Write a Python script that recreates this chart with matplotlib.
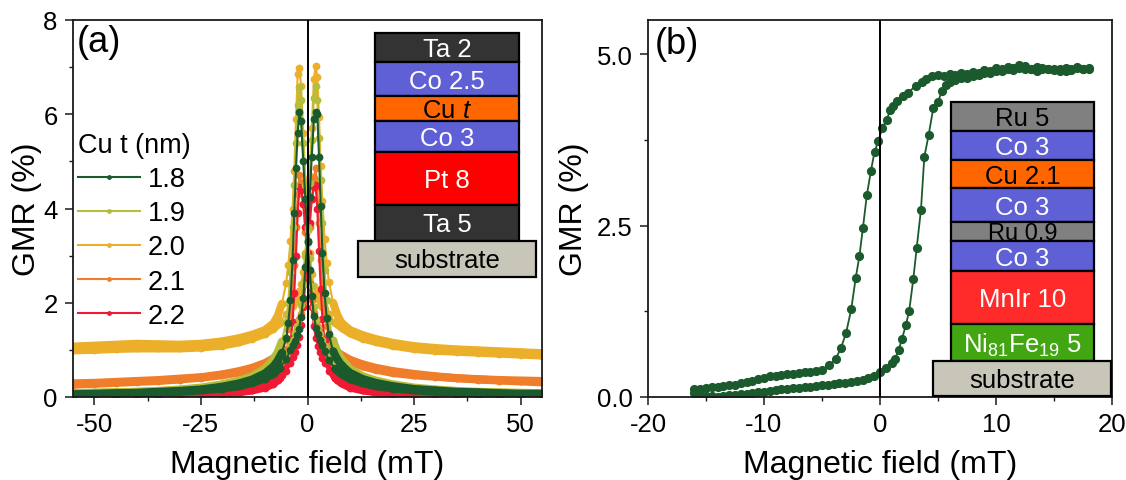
import matplotlib
matplotlib.use("Agg")
import matplotlib.pyplot as plt
import numpy as np
from matplotlib.patches import Rectangle
from matplotlib.ticker import MultipleLocator, FormatStrFormatter

plt.rcParams['font.family'] = ['Liberation Sans', 'DejaVu Sans']
plt.rcParams['mathtext.fontset'] = 'custom'
plt.rcParams['mathtext.rm'] = 'Liberation Sans'
plt.rcParams['mathtext.it'] = 'Liberation Sans:italic'
plt.rcParams['axes.unicode_minus'] = False

# ---------------- Panel (a) data: GMR vs field, two sweep branches ----------------
H_DOWN = [55, 50, 45, 40, 35, 30, 25, 20, 16, 13, 10, 8, 6.5, 5, 4, 3.5, 3, 2.5, 2, 1.5, 1, 0.5, 0,
          -0.5, -1, -1.5, -1.9, -2.3, -2.7, -3.1, -3.5, -4, -4.5, -5, -6, -7, -8, -10, -13, -16,
          -20, -25, -30, -35, -40, -45, -50, -55]
H_UP = [-55, -50, -45, -40, -35, -30, -25, -20, -16, -13, -10, -8, -6.5, -5, -4, -3.5, -3, -2.5, -2, -1.5, -1, -0.5, 0,
        0.5, 1, 1.5, 1.9, 2.3, 2.7, 3.1, 3.5, 4, 4.5, 5, 6, 7, 8, 10, 13, 16,
        20, 25, 30, 35, 40, 45, 50, 55]

GMR_18_DOWN = [0.05, 0.06, 0.07, 0.08, 0.09, 0.11, 0.14, 0.18, 0.23, 0.29, 0.38, 0.48, 0.60, 0.78, 0.98, 1.10,
               1.22, 1.33, 1.47, 1.72, 2.15, 2.70, 3.28, 4.20, 5.00, 5.85, 6.05, 5.60, 4.85, 3.90, 2.90, 2.05,
               1.58, 1.25, 0.94, 0.77, 0.65, 0.50, 0.37, 0.29, 0.22, 0.16, 0.13, 0.11, 0.09, 0.08, 0.07, 0.06]
GMR_18_UP = [0.05, 0.06, 0.07, 0.08, 0.09, 0.11, 0.14, 0.18, 0.23, 0.30, 0.39, 0.49, 0.61, 0.80, 1.00, 1.10,
             1.18, 1.32, 1.45, 1.70, 2.10, 2.75, 3.30, 4.25, 5.10, 5.90, 6.05, 6.00, 5.10, 4.05, 3.05, 2.20,
             1.68, 1.33, 0.97, 0.80, 0.67, 0.51, 0.38, 0.30, 0.23, 0.17, 0.14, 0.11, 0.10, 0.08, 0.07, 0.07]
GMR_19_DOWN = [0.07, 0.08, 0.09, 0.10, 0.11, 0.13, 0.16, 0.21, 0.27, 0.34, 0.44, 0.55, 0.68, 0.88, 1.08, 1.20,
               1.33, 1.47, 1.63, 1.90, 2.35, 2.95, 3.55, 4.50, 5.40, 6.30, 6.58, 6.20, 5.40, 4.50, 3.60, 2.65,
               2.00, 1.60, 1.18, 0.95, 0.80, 0.60, 0.44, 0.35, 0.27, 0.20, 0.16, 0.13, 0.11, 0.10, 0.09, 0.08]
GMR_19_UP = [0.08, 0.09, 0.10, 0.11, 0.12, 0.14, 0.17, 0.22, 0.28, 0.35, 0.45, 0.56, 0.70, 0.90, 1.10, 1.22,
             1.35, 1.50, 1.66, 1.95, 2.40, 3.00, 3.60, 4.55, 5.45, 6.35, 6.60, 6.30, 5.50, 4.60, 3.70, 2.70,
             2.05, 1.62, 1.20, 0.96, 0.80, 0.60, 0.44, 0.35, 0.27, 0.20, 0.16, 0.13, 0.11, 0.10, 0.09, 0.08]
GMR_20_DOWN = [0.88, 0.90, 0.92, 0.94, 0.96, 0.98, 1.02, 1.09, 1.17, 1.24, 1.35, 1.47, 1.58, 1.76, 1.86, 1.92,
               1.98, 2.08, 2.20, 2.36, 2.60, 3.05, 3.70, 4.60, 5.60, 6.60, 6.98, 6.85, 5.90, 4.80, 4.00, 3.30,
               2.80, 2.42, 1.98, 1.72, 1.56, 1.42, 1.32, 1.25, 1.18, 1.13, 1.11, 1.12, 1.13, 1.11, 1.09, 1.07]
GMR_20_UP = [0.99, 1.00, 1.02, 1.03, 1.03, 1.03, 1.05, 1.09, 1.16, 1.24, 1.34, 1.45, 1.57, 1.76, 1.87, 1.94,
             2.01, 2.11, 2.24, 2.40, 2.65, 3.05, 3.70, 4.70, 5.70, 6.75, 7.02, 6.80, 5.95, 4.90, 4.15, 3.35,
             2.85, 2.45, 2.00, 1.74, 1.57, 1.42, 1.31, 1.23, 1.15, 1.08, 1.04, 1.01, 0.99, 0.97, 0.95, 0.93]
GMR_21_DOWN = [0.31, 0.33, 0.35, 0.37, 0.40, 0.44, 0.49, 0.55, 0.62, 0.69, 0.79, 0.89, 0.99, 1.12, 1.22, 1.30,
               1.38, 1.48, 1.60, 1.78, 2.05, 2.40, 2.90, 3.50, 4.10, 4.55, 4.72, 4.30, 3.60, 2.80, 2.20, 1.75,
               1.45, 1.25, 1.02, 0.90, 0.82, 0.72, 0.62, 0.55, 0.48, 0.42, 0.39, 0.36, 0.34, 0.32, 0.30, 0.29]
GMR_21_UP = [0.26, 0.28, 0.30, 0.32, 0.34, 0.37, 0.41, 0.46, 0.52, 0.59, 0.68, 0.78, 0.88, 1.02, 1.14, 1.22,
             1.32, 1.44, 1.58, 1.76, 2.02, 2.40, 2.95, 3.60, 4.20, 4.65, 4.85, 4.45, 3.70, 2.90, 2.25, 1.80,
             1.50, 1.28, 1.05, 0.93, 0.85, 0.75, 0.65, 0.58, 0.51, 0.46, 0.43, 0.40, 0.38, 0.36, 0.35, 0.34]
GMR_22_DOWN = [0.02, 0.02, 0.03, 0.03, 0.04, 0.05, 0.06, 0.08, 0.11, 0.15, 0.22, 0.30, 0.40, 0.55, 0.72, 0.83,
               0.95, 1.08, 1.25, 1.50, 1.90, 2.40, 3.00, 3.60, 4.10, 4.40, 4.45, 3.90, 3.00, 2.20, 1.60, 1.15,
               0.85, 0.68, 0.47, 0.36, 0.28, 0.20, 0.14, 0.10, 0.07, 0.05, 0.04, 0.03, 0.03, 0.02, 0.02, 0.02]
GMR_22_UP = [0.02, 0.02, 0.02, 0.03, 0.03, 0.04, 0.06, 0.08, 0.11, 0.15, 0.22, 0.30, 0.41, 0.56, 0.73, 0.84,
             0.96, 1.10, 1.27, 1.52, 1.92, 2.45, 3.05, 3.70, 4.20, 4.45, 4.50, 4.00, 3.10, 2.30, 1.65, 1.20,
             0.88, 0.70, 0.48, 0.37, 0.29, 0.20, 0.14, 0.10, 0.07, 0.05, 0.04, 0.03, 0.03, 0.02, 0.02, 0.02]

CU_T_LABELS = ['1.8', '1.9', '2.0', '2.1', '2.2']
SERIES_COLORS = ['#1a5a2c', '#b5bd3a', '#ebaf2a', '#f07d2a', '#f01a34']
SERIES_DOWN = [GMR_18_DOWN, GMR_19_DOWN, GMR_20_DOWN, GMR_21_DOWN, GMR_22_DOWN]
SERIES_UP = [GMR_18_UP, GMR_19_UP, GMR_20_UP, GMR_21_UP, GMR_22_UP]
DRAW_ORDER = [2, 3, 4, 1, 0]  # gold, orange, red, olive, green on top

# ---------------- Panel (b) data: spin-valve loop ----------------
HB_DOWN = [18, 17.5, 17, 16.5, 16, 15.5, 15, 14.5, 14, 13.5, 13, 12.5, 12, 11.5, 11, 10.5, 10, 9.5, 9, 8.5,
           8, 7.5, 7, 6.5, 6, 5.5, 5, 4.5, 4, 3.6, 3.1, 2.4, 1.95, 1.5, 1.15, 0.86, 0.57, 0.2,
           -0.15, -0.47, -0.78, -1.13, -1.47, -1.78, -2.1, -2.48, -2.93, -3.36, -3.8, -4.4,
           -5.0, -5.5, -6, -6.5, -7, -7.5, -8, -8.5, -9, -9.5, -10, -10.5, -11, -11.5, -12, -12.5,
           -13, -13.5, -14, -14.5, -15, -15.5, -16]
GB_DOWN = [4.80, 4.78, 4.82, 4.77, 4.80, 4.76, 4.79, 4.78, 4.80, 4.81, 4.78, 4.83, 4.84, 4.80, 4.82, 4.78,
           4.80, 4.76, 4.77, 4.73, 4.74, 4.71, 4.72, 4.70, 4.71, 4.69, 4.70, 4.69, 4.64,
           4.60, 4.54, 4.44, 4.39, 4.32, 4.25, 4.18, 4.04, 3.93,
           3.73, 3.58, 3.30, 2.95, 2.47, 2.05, 1.73, 1.28, 0.93, 0.72, 0.56, 0.46,
           0.40, 0.38, 0.37, 0.36, 0.35, 0.34, 0.34, 0.32, 0.31, 0.30, 0.28, 0.26, 0.24, 0.22, 0.20, 0.18,
           0.17, 0.16, 0.15, 0.14, 0.13, 0.12, 0.11]
HB_UP = [-16, -15.5, -15, -14.5, -14, -13.5, -13, -12.5, -12, -11.5, -11, -10.5, -10, -9.5, -9, -8.5,
         -8, -7.5, -7, -6.5, -6, -5.5, -5, -4.5, -4, -3.5, -3, -2.5, -2, -1.5, -1, -0.5, 0,
         0.5, 1, 1.3, 1.6, 1.9, 2.23, 2.52, 2.87, 3.16, 3.53, 3.82, 4.19, 4.59, 5.02, 5.34, 5.7,
         6, 6.5, 7, 7.5, 8, 8.5, 9, 9.5, 10, 10.5, 11, 11.5, 12, 12.5, 13, 13.5, 14, 14.5, 15, 15.5,
         16, 16.5, 17, 17.5, 18]
GB_UP = [0.06, 0.04, 0.02, 0.01, 0.00, 0.02, 0.03, 0.03, 0.05, 0.05, 0.06, 0.07, 0.07, 0.09, 0.10, 0.11,
         0.12, 0.13, 0.13, 0.14, 0.15, 0.16, 0.17, 0.18, 0.19, 0.20, 0.21, 0.22, 0.24, 0.25, 0.27, 0.30, 0.36,
         0.42, 0.50, 0.56, 0.68, 0.85, 1.05, 1.26, 1.72, 2.17, 2.73, 3.50, 3.82, 4.21, 4.31, 4.47, 4.55,
         4.60, 4.63, 4.65, 4.66, 4.68, 4.70, 4.72, 4.73, 4.75, 4.76, 4.78, 4.77, 4.80, 4.79, 4.78, 4.76,
         4.78, 4.79, 4.77, 4.78, 4.76, 4.78, 4.80, 4.79, 4.78]

# ---------------- Layer stacks ----------------
STACK_A_LABELS = ['Ta 2', 'Co 2.5', 'Cu $\\mathit{t}$', 'Co 3', 'Pt 8', 'Ta 5', 'substrate']
STACK_A_COLORS = ['#333333', '#5f5fd6', '#ff6600', '#5f5fd6', '#ff0000', '#333333', '#c8c5b9']
STACK_A_TEXT = ['white', 'white', 'black', 'white', 'white', 'white', 'black']
STACK_A_EDGES = [0.966, 0.888, 0.799, 0.733, 0.651, 0.510, 0.415, 0.318]

STACK_B_LABELS = ['Ru 5', 'Co 3', 'Cu 2.1', 'Co 3', 'Ru 0.9', 'Co 3', 'MnIr 10',
                  'Ni$_{81}$Fe$_{19}$ 5', 'substrate']
STACK_B_COLORS = ['#808080', '#5f5fd6', '#ff6600', '#5f5fd6', '#808080', '#5f5fd6', '#ff2a2a',
                  '#42a612', '#c8c5b9']
STACK_B_TEXT = ['black', 'white', 'black', 'white', 'black', 'white', 'white', 'white', 'black']
STACK_B_EDGES = [0.782, 0.706, 0.629, 0.554, 0.463, 0.413, 0.335, 0.193, 0.096, 0.003]

W, Hpx = 1126, 481
fig = plt.figure(figsize=(W / 100, Hpx / 100), dpi=100)
axA = fig.add_axes([73 / W, 83 / Hpx, 469 / W, 377 / Hpx])
axB = fig.add_axes([648 / W, 83 / Hpx, 464 / W, 377 / Hpx])

TICK_FS = 18.5
LABEL_FS = 23


def style_axes(ax):
    for s in ax.spines.values():
        s.set_linewidth(1.3)
        s.set_color('#1a1a1a')
    ax.tick_params(which='major', direction='out', length=5.5, width=1.1, labelsize=TICK_FS, pad=5.5,
                   colors='#1a1a1a', labelcolor='black')
    ax.tick_params(which='minor', direction='out', length=3, width=1.0, colors='#1a1a1a')
    ax.axvline(0, color='black', lw=1.4, zorder=6)


def draw_stack(ax, labels, colors, tcolors, edges, x0, x1, sx0, sx1, fs, special):
    n = len(labels)
    for i in range(n):
        top, bot = edges[i], edges[i + 1]
        if i == n - 1:
            a, b = sx0, sx1
        else:
            a, b = x0, x1
        rect = Rectangle((a, bot), b - a, top - bot, transform=ax.transAxes, facecolor=colors[i],
                         edgecolor='black', lw=1.6, zorder=20 + 2 * i, clip_on=False)
        ax.add_patch(rect)
        if i in special:
            f, yb = special[i]
            t = ax.text((a + b) / 2, bot + yb, labels[i], transform=ax.transAxes,
                        ha='center', va='baseline', fontsize=f, color=tcolors[i], zorder=21 + 2 * i)
        else:
            t = ax.text((a + b) / 2, (top + bot) / 2 - 0.004, labels[i], transform=ax.transAxes,
                        ha='center', va='center', fontsize=fs, color=tcolors[i], zorder=21 + 2 * i)
        t.set_clip_path(rect)


# ---------------- Panel (a) ----------------
handles = {}
for k in DRAW_ORDER:
    col = SERIES_COLORS[k]
    z = 2 + DRAW_ORDER.index(k) * 0.1
    for H, G in ((H_DOWN, SERIES_DOWN[k]), (H_UP, SERIES_UP[k])):
        H = np.asarray(H, float)
        G = np.asarray(G, float)
        tail = np.where(np.abs(H) >= 6, G, np.nan)
        axA.plot(H, tail, color=col, lw=5.8, solid_capstyle='round', zorder=z)
        ln, = axA.plot(H, G, '-o', color=col, lw=1.5, ms=5.6, mew=0, zorder=z)
    handles[k] = ln

axA.set_xlim(-55, 55)
axA.set_ylim(0, 8)
axA.xaxis.set_major_locator(MultipleLocator(25))
axA.xaxis.set_minor_locator(MultipleLocator(12.5))
axA.yaxis.set_major_locator(MultipleLocator(2))
axA.yaxis.set_minor_locator(MultipleLocator(1))
style_axes(axA)
axA.set_xlabel('Magnetic field (mT)', fontsize=LABEL_FS, labelpad=9)
axA.set_ylabel('GMR (%)', fontsize=LABEL_FS, labelpad=1)
axA.text(0.009, 0.99, '(a)', transform=axA.transAxes, fontsize=26, ha='left', va='top')

leg = axA.legend([handles[k] for k in range(5)], CU_T_LABELS, title='Cu t (nm)', loc='upper left',
                 bbox_to_anchor=(0.004, 0.71), frameon=False, fontsize=19.5, title_fontsize=19.5,
                 handlelength=2.3, handletextpad=0.28, labelspacing=0.30, borderpad=0.1,
                 borderaxespad=0, markerscale=0.62, alignment='left')
leg.set_zorder(15)

draw_stack(axA, STACK_A_LABELS, STACK_A_COLORS, STACK_A_TEXT, STACK_A_EDGES,
           0.643, 0.952, 0.607, 0.987, 18.5, {})

# ---------------- Panel (b) ----------------
GREEN_B = '#1a5a2c'
axB.plot(HB_DOWN, GB_DOWN, '-o', color=GREEN_B, lw=1.3, ms=6.6, mew=0, zorder=2)
axB.plot(HB_UP, GB_UP, '-o', color=GREEN_B, lw=1.3, ms=6.6, mew=0, zorder=2)
axB.set_xlim(-20, 20)
axB.set_ylim(0, 5.5)
axB.xaxis.set_major_locator(MultipleLocator(10))
axB.xaxis.set_minor_locator(MultipleLocator(5))
axB.yaxis.set_major_locator(MultipleLocator(2.5))
axB.yaxis.set_minor_locator(MultipleLocator(1.25))
axB.yaxis.set_major_formatter(FormatStrFormatter('%.1f'))
style_axes(axB)
axB.set_xlabel('Magnetic field (mT)', fontsize=LABEL_FS, labelpad=9)
axB.set_ylabel('GMR (%)', fontsize=LABEL_FS, labelpad=6)
axB.text(0.015, 0.985, '(b)', transform=axB.transAxes, fontsize=26, ha='left', va='top')

draw_stack(axB, STACK_B_LABELS, STACK_B_COLORS, STACK_B_TEXT, STACK_B_EDGES,
           0.652, 0.962, 0.614, 0.997, 18.5, {4: (17, 0.006)})

fig.savefig('out.png', dpi=100)
